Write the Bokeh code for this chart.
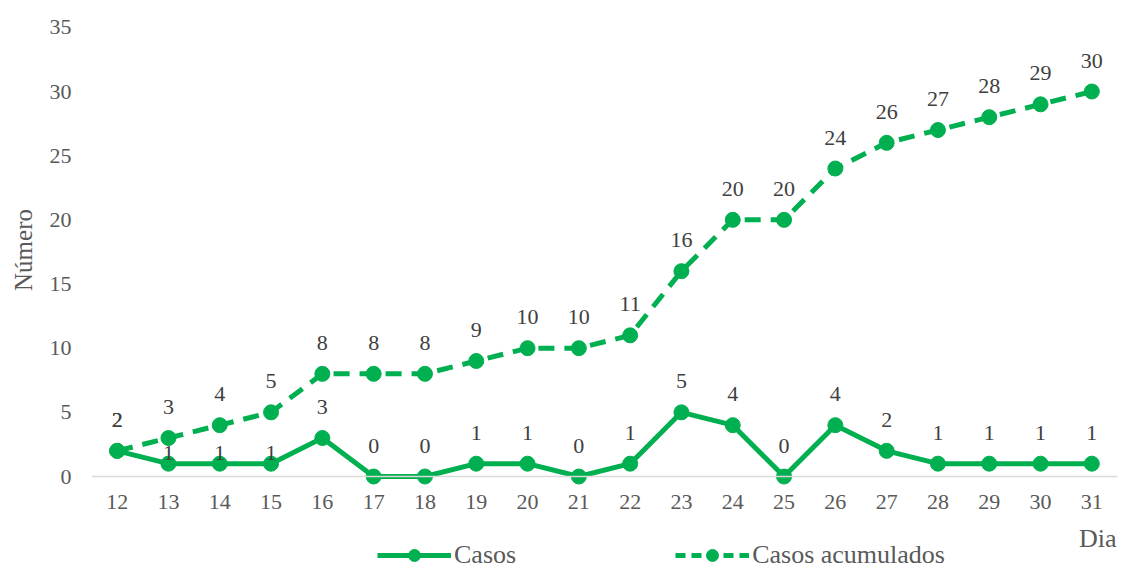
from bokeh.plotting import figure
from bokeh.layouts import column
from bokeh.models import (Range1d, FixedTicker, Span, Label, Legend, LegendItem,
                          ColumnDataSource)
from bokeh.core.properties import value
from bokeh.embed import file_html
from bokeh.resources import INLINE

# ---- data ----
dias = list(range(12, 32))
casos = [2, 1, 1, 1, 3, 0, 0, 1, 1, 0, 1, 5, 4, 0, 4, 2, 1, 1, 1, 1]
acumulados = [2, 3, 4, 5, 8, 8, 8, 9, 10, 10, 11, 16, 20, 20, 24, 26, 27, 28, 29, 30]
y_ticks = [0, 5, 10, 15, 20, 25, 30, 35]
series_names = ["Casos", "Casos acumulados"]

# label vertical offsets (px above point) for the "Casos" labels
casos_dy = [-31] * len(dias)
for i in (1, 2, 3):
    casos_dy[i] = -11

GREEN = "#00B050"
FONT = "Liberation Serif"
AXIS_TXT = "#595959"
LBL_TXT = "#404040"

src_c = ColumnDataSource(dict(x=dias, y=casos, t=[str(v) for v in casos], dy=casos_dy))
src_a = ColumnDataSource(dict(x=dias, y=acumulados, t=[str(v) for v in acumulados]))

W = 1118
H1 = 520
p = figure(width=W, height=H1, output_backend="svg", toolbar_location=None,
           x_range=Range1d(11.5, 31.5), y_range=Range1d(-0.7, 36),
           min_border_left=91, min_border_right=1, min_border_top=14, min_border_bottom=35)
p.outline_line_color = None
p.grid.visible = False

# baseline at 0
p.add_layout(Span(location=0, dimension="width", line_color="#D9D9D9", line_width=1.3))

l2 = p.line("x", "y", source=src_a, line_color=GREEN, line_width=5, line_dash="16 10")
s2 = p.scatter("x", "y", source=src_a, size=15, fill_color=GREEN, line_color=GREEN)
l1 = p.line("x", "y", source=src_c, line_color=GREEN, line_width=5)
s1 = p.scatter("x", "y", source=src_c, size=15, fill_color=GREEN, line_color=GREEN)

p.text("x", "y", text="t", source=src_a, y_offset=-31, text_align="center",
       text_baseline="middle", text_font=value(FONT), text_font_size="22px",
       text_color=LBL_TXT)
p.text("x", "y", text="t", source=src_c, y_offset="dy", text_align="center",
       text_baseline="middle", text_font=value(FONT), text_font_size="22px",
       text_color=LBL_TXT)

# axes
xa = p.xaxis[0]
xa.ticker = FixedTicker(ticks=dias)
xa.axis_line_color = None
xa.major_tick_line_color = None
xa.minor_tick_line_color = None
xa.major_tick_out = 0
xa.major_label_standoff = 9
xa.major_label_text_font = FONT
xa.major_label_text_font_size = "22px"
xa.major_label_text_color = AXIS_TXT

ya = p.yaxis[0]
ya.ticker = FixedTicker(ticks=y_ticks)
ya.axis_line_color = None
ya.major_tick_line_color = None
ya.minor_tick_line_color = None
ya.major_tick_out = 0
ya.major_label_standoff = 20
ya.major_label_text_font = FONT
ya.major_label_text_font_size = "22px"
ya.major_label_text_color = AXIS_TXT
ya.axis_label = "Número"
ya.axis_label_text_font = FONT
ya.axis_label_text_font_size = "25px"
ya.axis_label_text_font_style = "normal"
ya.axis_label_text_color = AXIS_TXT
ya.axis_label_standoff = 10

# ---- bottom strip: "Dia" label and legend ----
H2 = 50
q = figure(width=W, height=H2, output_backend="svg", toolbar_location=None,
           x_range=Range1d(0, W), y_range=Range1d(0, H2),
           x_axis_type=None, y_axis_type=None, min_border=0)
q.outline_line_color = None
q.grid.visible = False

q.add_layout(Label(x=W - 1, y=32, text="Dia", text_align="right", text_baseline="middle",
                   text_font=FONT, text_font_size="26px", text_color=AXIS_TXT))

# legend proxies (styled like the main series, placed outside the visible strip)
ql1 = q.line([-10, -9], [-10, -10], line_color=GREEN, line_width=5)
qs1 = q.scatter([-10], [-10], size=15, fill_color=GREEN, line_color=GREEN)
ql2 = q.line([-10, -9], [-10, -10], line_color=GREEN, line_width=5, line_dash="10 6")
qs2 = q.scatter([-10], [-10], size=15, fill_color=GREEN, line_color=GREEN)

legend = Legend(items=[LegendItem(label=series_names[0], renderers=[ql1, qs1]),
                       LegendItem(label=series_names[1], renderers=[ql2, qs2])],
                location=(286, 0), orientation="horizontal",
                glyph_width=74, glyph_height=30, label_height=20, label_standoff=3,
                label_width=0, spacing=159, padding=0, margin=0,
                border_line_color=None, background_fill_alpha=0,
                label_text_font=FONT, label_text_font_size="26px",
                label_text_color=AXIS_TXT, label_text_baseline="middle")
q.add_layout(legend)

layout = column(p, q, spacing=0)
open("out.html", "w").write(file_html(layout, INLINE))
